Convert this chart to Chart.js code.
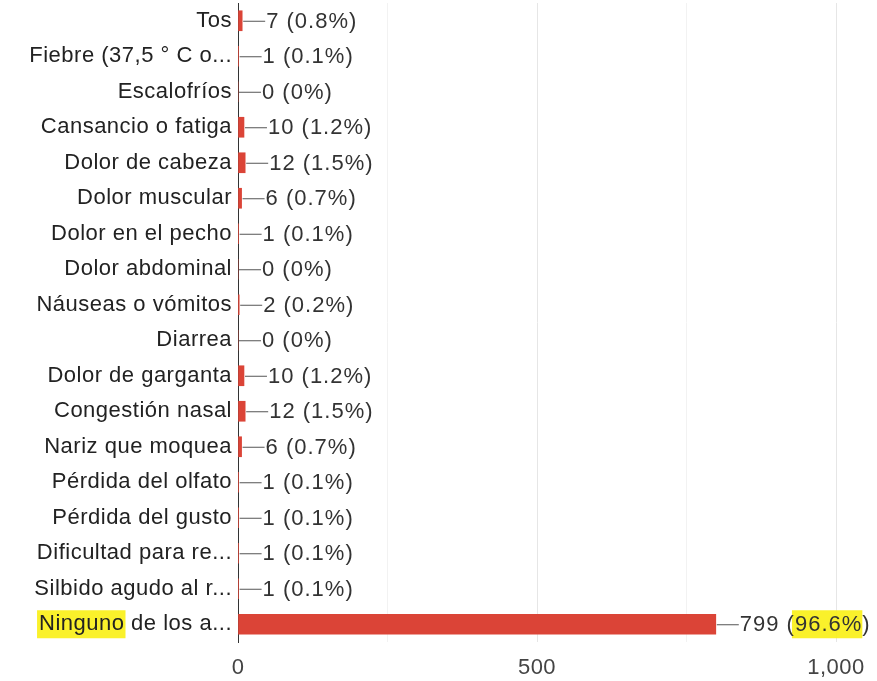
<!DOCTYPE html>
<html>
<head>
<meta charset="utf-8">
<script src="https://cdn.jsdelivr.net/npm/chart.js@4/dist/chart.umd.min.js"></script>
<style>
    html, body { margin: 0; padding: 0; background: #fff; }
    #wrap { width: 877px; height: 681px; position: relative; }
</style>
</head>
<body>
<div id="wrap"><canvas id="chart"></canvas></div>
<script>
// ==========================================
// Symptom responses - horizontal bar chart
// ==========================================

const categories = [
    'Tos',
    'Fiebre (37,5 ° C o...',
    'Escalofríos',
    'Cansancio o fatiga',
    'Dolor de cabeza',
    'Dolor muscular',
    'Dolor en el pecho',
    'Dolor abdominal',
    'Náuseas o vómitos',
    'Diarrea',
    'Dolor de garganta',
    'Congestión nasal',
    'Nariz que moquea',
    'Pérdida del olfato',
    'Pérdida del gusto',
    'Dificultad para re...',
    'Silbido agudo al r...',
    'Ninguno de los a...'
];
const counts = [7, 1, 0, 10, 12, 6, 1, 0, 2, 0, 10, 12, 6, 1, 1, 1, 1, 799];
const percents = [0.8, 0.1, 0, 1.2, 1.5, 0.7, 0.1, 0, 0.2, 0, 1.2, 1.5, 0.7, 0.1, 0.1, 0.1, 0.1, 96.6];
const xTickLabels = { 0: '0', 500: '500', 1000: '1,000' };

const FONT = "'Liberation Sans', Arial, sans-serif";
const FONT_SIZE = 22;
const HIGHLIGHT = 'rgba(250, 240, 20, 0.9)';

const pctText = p => (p === 0 ? '0' : p.toFixed(1)) + '%';

// leader line + "n (p%)" after each bar, with the marker highlight on the last one
const valueLabels = {
    id: 'valueLabels',
    afterDatasetsDraw(chart) {
        const ctx = chart.ctx;
        const meta = chart.getDatasetMeta(0);
        ctx.save();
        ctx.font = `${FONT_SIZE}px ${FONT}`;
        ctx.letterSpacing = '1px';
        ctx.textBaseline = 'middle';
        meta.data.forEach((bar, i) => {
            const x = bar.x;
            const y = bar.y;
            ctx.strokeStyle = '#555';
            ctx.lineWidth = 1;
            ctx.beginPath();
            ctx.moveTo(x + 1, y + 0.5);
            ctx.lineTo(x + 23, y + 0.5);
            ctx.stroke();

            const head = counts[i] + ' (';
            const pct = pctText(percents[i]);
            const tx = x + 24;
            if (i === counts.length - 1) {
                const hx = tx + ctx.measureText(head).width;
                const hw = ctx.measureText(pct).width;
                ctx.fillStyle = HIGHLIGHT;
                ctx.fillRect(hx - 3, y - 14, hw + 3, 28);
            }
            ctx.fillStyle = '#333';
            ctx.textAlign = 'left';
            ctx.fillText(head + pct + ')', tx, y + 1);
        });
        ctx.restore();
    },
    beforeDraw(chart) {
        const ctx = chart.ctx;
        ctx.letterSpacing = '0.5px';
        // highlight behind the first word of the last category label
        const yScale = chart.scales.y;
        const last = categories.length - 1;
        const y = yScale.getPixelForValue(last);
        ctx.save();
        ctx.font = `${FONT_SIZE}px ${FONT}`;
        const right = yScale.right - 6;
        const full = ctx.measureText(categories[last]).width;
        const word = ctx.measureText('Ninguno').width;
        ctx.fillStyle = HIGHLIGHT;
        ctx.fillRect(right - full - 2, y - 14, word + 3, 28);
        ctx.restore();
    }
};

new Chart(document.getElementById('chart'), {
    type: 'bar',
    data: {
        labels: categories,
        datasets: [{
            data: counts,
            backgroundColor: '#db4437',
            borderWidth: 0,
            barThickness: 20
        }]
    },
    options: {
        indexAxis: 'y',
        responsive: true,
        maintainAspectRatio: false,
        animation: false,
        layout: { padding: { top: 3, right: 41, left: 0, bottom: 0 } },
        plugins: {
            legend: { display: false },
            tooltip: { enabled: false }
        },
        scales: {
            x: {
                min: 0,
                max: 1000,
                afterFit: s => { s.height = 39; s.paddingLeft = 0; s.paddingRight = 0; },
                grid: {
                    drawTicks: false,
                    color: ctx => {
                        const v = ctx.tick ? ctx.tick.value : 0;
                        if (v === 0) return 'rgba(0,0,0,0)';
                        return v % 500 === 0 ? '#e6e6e6' : '#f2f2f2';
                    }
                },
                border: { display: false },
                ticks: {
                    stepSize: 250,
                    padding: 13,
                    color: '#444',
                    font: { size: FONT_SIZE, family: FONT },
                    callback: value => xTickLabels[value] ?? ''
                }
            },
            y: {
                afterFit: s => { s.width = 238; s.paddingTop = 0; s.paddingBottom = 0; },
                grid: { display: false, drawTicks: false },
                border: { display: true, color: '#333', width: 1 },
                ticks: {
                    padding: 6,
                    color: '#222',
                    font: { size: FONT_SIZE, family: FONT },
                    autoSkip: false
                }
            }
        }
    },
    plugins: [valueLabels]
});
</script>
</body>
</html>
